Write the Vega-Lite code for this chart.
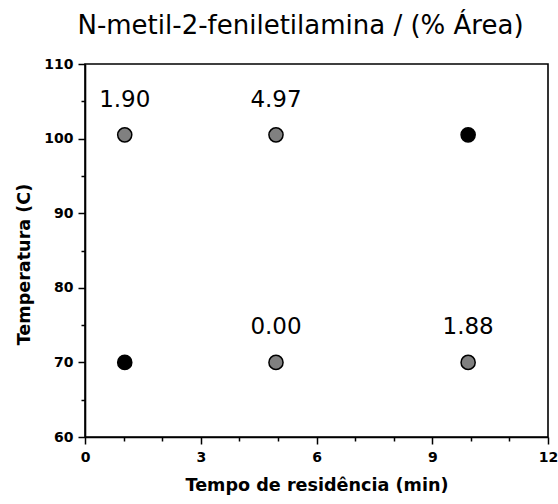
{
  "$schema": "https://vega.github.io/schema/vega-lite/v6.json",
  "width": 463,
  "height": 373,
  "autosize": {"type": "none"},
  "padding": {"left": 85, "top": 64, "right": 10, "bottom": 67},
  "background": "white",
  "title": {
    "text": "N-metil-2-feniletilamina / (% Área)",
    "font": "DejaVu Sans",
    "fontSize": 26,
    "fontWeight": "normal",
    "color": "#000000",
    "anchor": "middle",
    "frame": "group",
    "baseline": "bottom",
    "offset": 25,
    "dx": -16,
    "dy": 33
  },
  "config": {
    "view": {"stroke": "#000000", "strokeWidth": 1.6},
    "axis": {
      "grid": false,
      "domainColor": "#000000",
      "domainWidth": 1.6,
      "tickColor": "#000000",
      "tickWidth": 1.5,
      "labelFont": "DejaVu Sans",
      "labelFontWeight": "bold",
      "labelFontSize": 14,
      "labelColor": "#000000",
      "titleFont": "DejaVu Sans",
      "titleFontWeight": "bold",
      "titleFontSize": 17.6,
      "titleColor": "#000000"
    }
  },
  "data": {
    "values": [
      {"tempo": 1.03, "temperatura": 100.5, "area": 1.90, "tipo": "A"},
      {"tempo": 4.95, "temperatura": 100.5, "area": 4.97, "tipo": "A"},
      {"tempo": 9.93, "temperatura": 100.5, "area": null, "tipo": "B"},
      {"tempo": 1.03, "temperatura": 70, "area": null, "tipo": "B"},
      {"tempo": 4.95, "temperatura": 70, "area": 0.00, "tipo": "A"},
      {"tempo": 9.93, "temperatura": 70, "area": 1.88, "tipo": "A"}
    ]
  },
  "encoding": {
    "x": {
      "field": "tempo",
      "type": "quantitative",
      "scale": {"domain": [0, 12], "nice": false, "zero": false},
      "axis": {
        "title": "Tempo de residência (min)",
        "values": [0, 1, 2, 3, 4, 5, 6, 7, 8, 9, 10, 11, 12],
        "labelExpr": "datum.value % 3 === 0 ? datum.label : ''",
        "tickSize": {"condition": {"test": "datum.value % 3 === 0", "value": 7}, "value": 4},
        "labelPadding": 6,
        "labelFlush": false,
        "titlePadding": 12
      }
    },
    "y": {
      "field": "temperatura",
      "type": "quantitative",
      "scale": {"domain": [60, 110], "nice": false, "zero": false},
      "axis": {
        "title": "Temperatura (C)",
        "values": [60, 65, 70, 75, 80, 85, 90, 95, 100, 105, 110],
        "labelExpr": "datum.value % 10 === 0 ? datum.label : ''",
        "tickSize": {"condition": {"test": "datum.value % 10 === 0", "value": 7}, "value": 4},
        "labelPadding": 5,
        "labelFlush": false,
        "titlePadding": 10,
        "titleY": 200
      }
    }
  },
  "layer": [
    {
      "mark": {"type": "point", "filled": true, "shape": "circle", "size": 200, "stroke": "#000000", "strokeWidth": 1.5, "opacity": 1},
      "encoding": {
        "fill": {
          "field": "tipo",
          "type": "nominal",
          "scale": {"domain": ["A", "B"], "range": ["#808080", "#000000"]},
          "legend": null
        }
      }
    },
    {
      "transform": [{"filter": "datum.area != null"}],
      "mark": {"type": "text", "font": "DejaVu Sans", "fontSize": 23, "color": "#000000", "baseline": "alphabetic", "align": "center", "dy": -28},
      "encoding": {
        "text": {"field": "area", "type": "quantitative", "format": ".2f"}
      }
    }
  ]
}
